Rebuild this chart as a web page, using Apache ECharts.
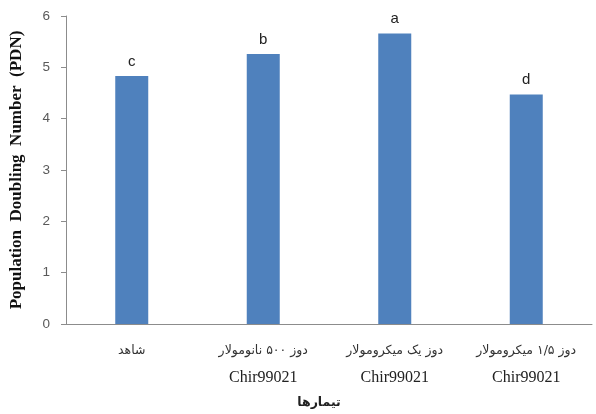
<!DOCTYPE html>
<html>
<head>
<meta charset="utf-8">
<script src="https://cdn.jsdelivr.net/npm/echarts@6/dist/echarts.min.js"></script>
<style>
  html, body { margin: 0; padding: 0; background: #fff; }
  #chart { width: 596px; height: 414px; }
</style>
</head>
<body>
<div id="chart"></div>
<script>
// Treatment groups: Persian dose line and compound line
const treatments = ['شاهد', 'دوز ۵۰۰ نانومولار', 'دوز یک میکرومولار', 'دوز ۱/۵ میکرومولار'];
const compounds = ['', 'Chir99021', 'Chir99021', 'Chir99021'];
// Population doubling number per group
const pdnValues = [4.83, 5.26, 5.66, 4.47];
// Significance letters shown above bars
const groupLetters = ['c', 'b', 'a', 'd'];
const yTicks = [0, 1, 2, 3, 4, 5, 6];

const categories = treatments.map((t, i) => i);

const chart = echarts.init(document.getElementById('chart'), null, { renderer: 'canvas' });
chart.setOption({
  animation: false,
  backgroundColor: '#ffffff',
  grid: { left: 60, right: 4, top: 16, bottom: 83, containLabel: false },
  xAxis: {
    type: 'category',
    data: categories,
    axisLine: { lineStyle: { color: '#8c8c8c', width: 1 } },
    axisTick: { show: false },
    axisLabel: {
      margin: 13,
      interval: 0,
      formatter: function (v, i) {
        return '{fa|' + treatments[i] + '}\n{en|' + (compounds[i] || ' ') + '}';
      },
      rich: {
        fa: { fontFamily: 'DejaVu Sans', fontSize: 12.5, color: '#333', lineHeight: 28 },
        en: { fontFamily: 'Liberation Serif', fontSize: 16, color: '#222', lineHeight: 26 }
      }
    },
    name: 'تیمارها',
    nameLocation: 'middle',
    nameGap: 72,
    nameTextStyle: {
      fontFamily: 'DejaVu Sans', fontSize: 12.5, fontWeight: 'bold', color: '#222',
      padding: [0, 20, 0, 0]
    }
  },
  yAxis: {
    type: 'value',
    min: yTicks[0],
    max: yTicks[yTicks.length - 1],
    interval: 1,
    splitLine: { show: false },
    axisLine: { show: true, lineStyle: { color: '#8c8c8c', width: 1 } },
    axisTick: { show: true, length: 5, lineStyle: { color: '#8c8c8c' } },
    axisLabel: {
      margin: 16,
      fontFamily: 'Liberation Sans', fontSize: 13.5, color: '#595959'
    },
    name: 'Population  Doubling  Number  (PDN)',
    nameLocation: 'middle',
    nameGap: 41,
    nameTextStyle: {
      fontFamily: 'Liberation Serif', fontSize: 17, fontWeight: 'bold', color: '#111'
    }
  },
  series: [{
    type: 'bar',
    data: pdnValues,
    barWidth: 33,
    itemStyle: { color: '#4f81bd' },
    label: {
      show: true,
      position: 'top',
      distance: 7,
      formatter: p => groupLetters[p.dataIndex],
      fontFamily: 'Liberation Sans', fontSize: 15, color: '#222'
    }
  }]
});
</script>
</body>
</html>
